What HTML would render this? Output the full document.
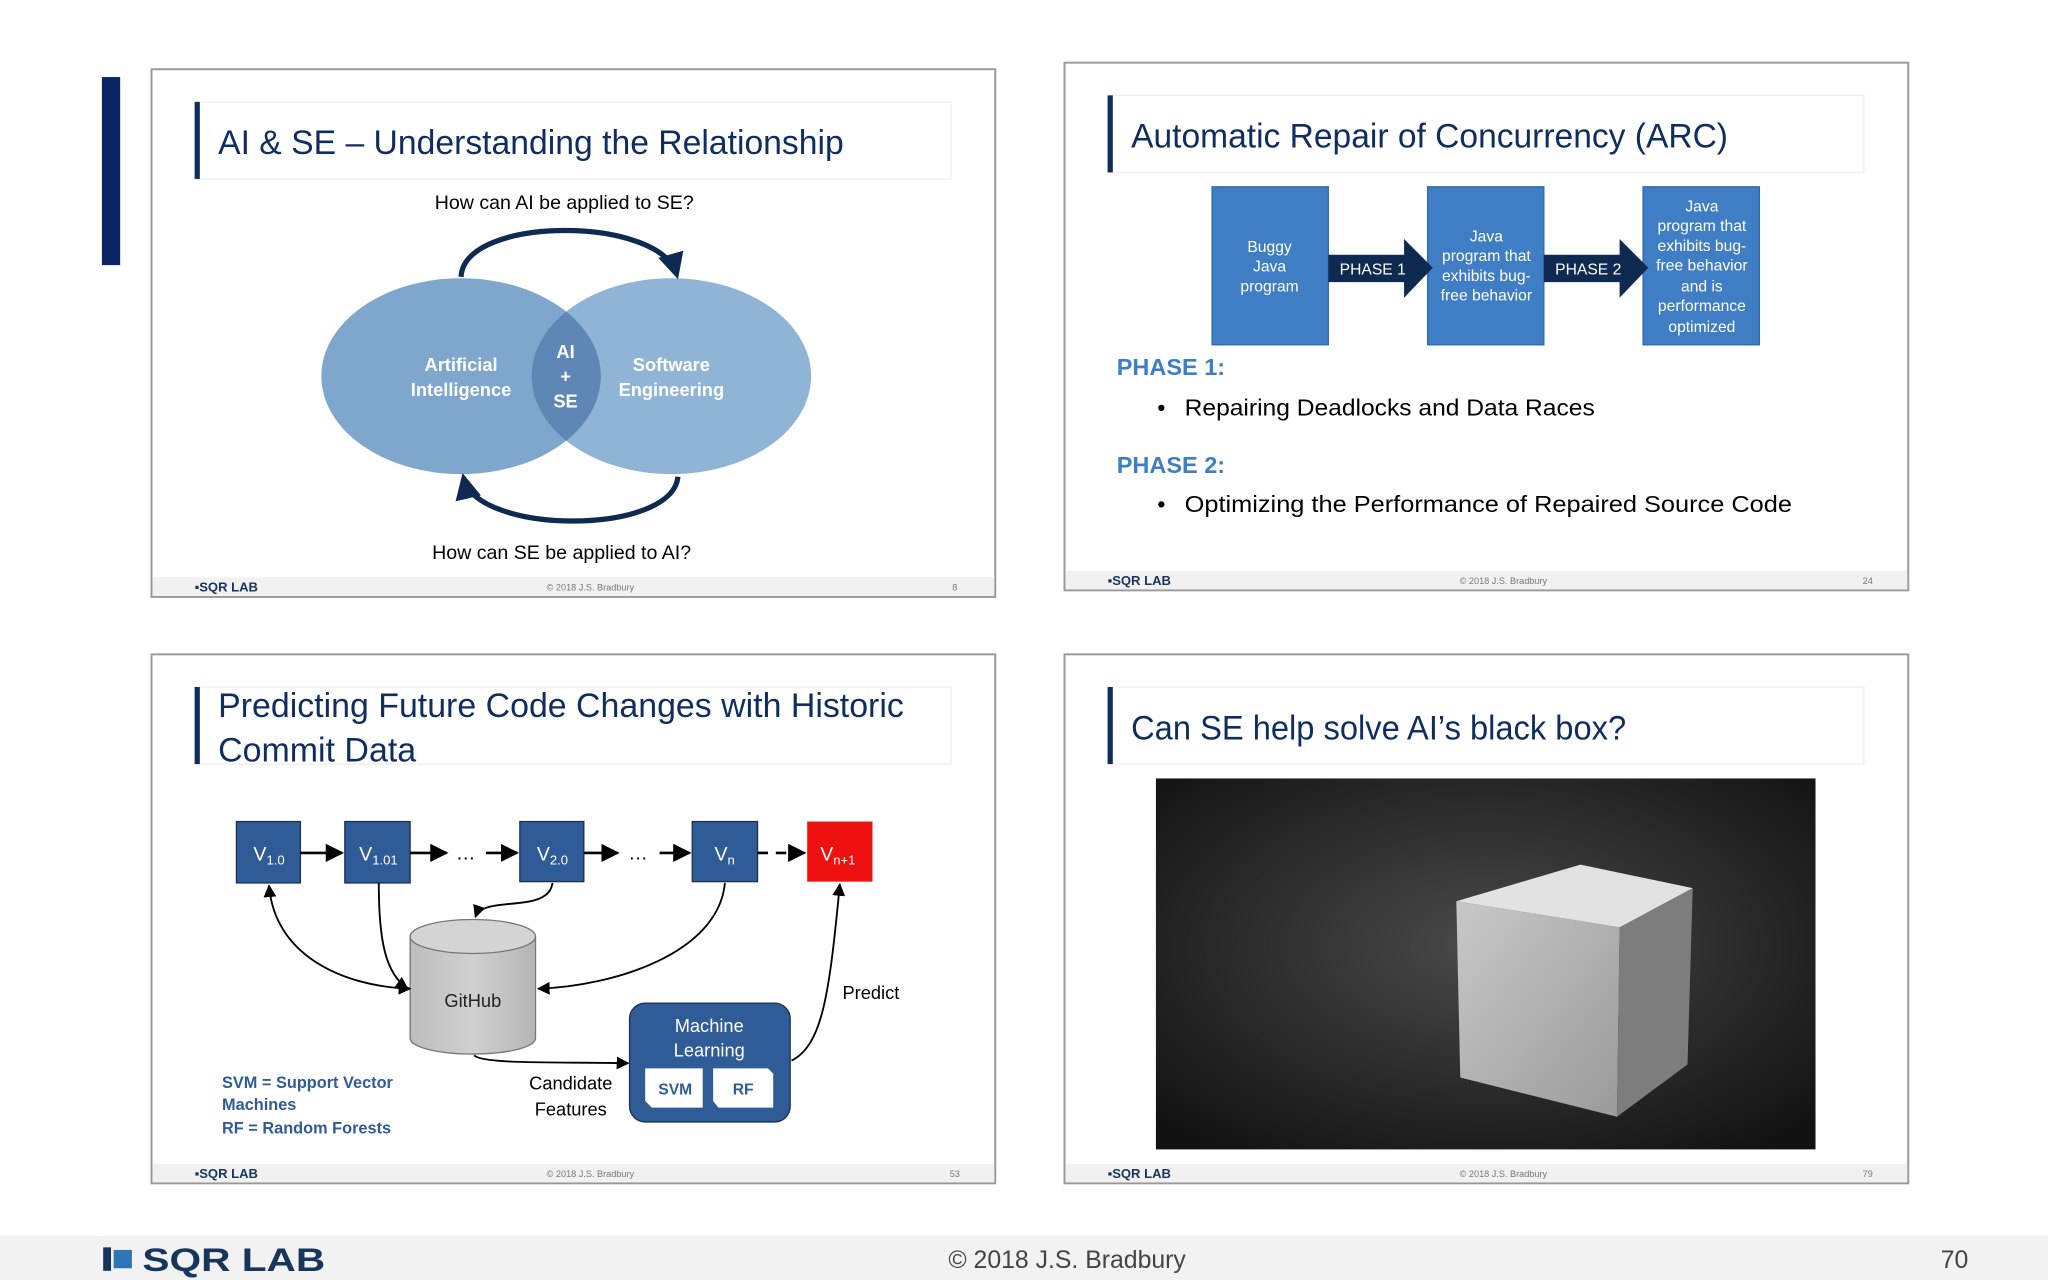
<!DOCTYPE html>
<html><head><meta charset="utf-8"><style>
html,body{margin:0;padding:0;background:#fff;width:2048px;height:1280px;overflow:hidden}
svg{display:block}
text{font-family:"Liberation Sans",sans-serif}
</style></head><body>
<svg width="2048" height="1280" viewBox="0 0 1568 980" xmlns="http://www.w3.org/2000/svg">
<defs>
<marker id="ah" viewBox="0 0 10 10" refX="9" refY="5" markerWidth="7" markerHeight="7" orient="auto-start-reverse"><path d="M0,0L10,5L0,10z" fill="#000"/></marker>
<marker id="ahb" viewBox="0 0 10 10" refX="8" refY="5" markerWidth="5" markerHeight="5" orient="auto-start-reverse"><path d="M0,0L10,5L0,10z" fill="#0f2a50"/></marker>
<radialGradient id="bg" cx="0.5" cy="0.45" r="0.7"><stop offset="0" stop-color="#4a4a4a"/><stop offset="1" stop-color="#111"/></radialGradient>
<linearGradient id="cyl" x1="0" x2="1"><stop offset="0" stop-color="#bdbdbd"/><stop offset="0.5" stop-color="#d0d0d0"/><stop offset="1" stop-color="#b5b5b5"/></linearGradient>
<linearGradient id="cf" x1="0" y1="0" x2="1" y2="1"><stop offset="0" stop-color="#c8c8c8"/><stop offset="1" stop-color="#9a9a9a"/></linearGradient>
</defs>
<rect width="1568" height="980" fill="#fff"/>
<rect x="78" y="59" width="14" height="144" fill="#0b2463"/>
<rect x="0" y="946" width="1568" height="34" fill="#f2f2f2"/>
<g font-weight="bold" fill="#17365d"><rect x="79" y="955" width="6" height="18" fill="#17365d"/><rect x="87" y="957" width="14" height="14" fill="#2e75b6"/>
<text x="109" y="973" font-size="25" textLength="140" lengthAdjust="spacingAndGlyphs">SQR LAB</text></g>
<text x="817" y="971" font-size="19" fill="#444" text-anchor="middle">© 2018 J.S. Bradbury</text>
<text x="1507" y="971" font-size="19" fill="#444" text-anchor="end">70</text>

<g fill="#fff" stroke="#999" stroke-width="1.5">
<rect x="116" y="53" width="646" height="404"/>
<rect x="815" y="48" width="646" height="404"/>
<rect x="116" y="501" width="646" height="405"/>
<rect x="815" y="501" width="646" height="405"/>
</g>
<g fill="#f1f1f1">
<rect x="117" y="442" width="644" height="14"/>
<rect x="816" y="437" width="644" height="14"/>
<rect x="117" y="891" width="644" height="14"/>
<rect x="816" y="891" width="644" height="14"/>
</g>
<g font-size="10" font-weight="bold" fill="#17365d">
<text x="149" y="453">▪SQR LAB</text><text x="848" y="448">▪SQR LAB</text>
<text x="149" y="902">▪SQR LAB</text><text x="848" y="902">▪SQR LAB</text></g>
<g font-size="7" fill="#777" text-anchor="middle">
<text x="452" y="452">© 2018 J.S. Bradbury</text><text x="1151" y="447">© 2018 J.S. Bradbury</text>
<text x="452" y="901">© 2018 J.S. Bradbury</text><text x="1151" y="901">© 2018 J.S. Bradbury</text>
<text x="731" y="452">8</text><text x="1430" y="447">24</text><text x="731" y="901">53</text><text x="1430" y="901">79</text></g>

<g fill="none" stroke="#eee"><rect x="150" y="78" width="578" height="59"/><rect x="849" y="73" width="578" height="59"/><rect x="150" y="526" width="578" height="59"/><rect x="849" y="526" width="578" height="59"/></g>
<g fill="#0f2d5e"><rect x="149" y="78" width="4" height="59"/><rect x="848" y="73" width="4" height="59"/><rect x="149" y="526" width="4" height="59"/><rect x="848" y="526" width="4" height="59"/></g>
<g font-size="26" fill="#0f2d5e">
<text x="167" y="118" textLength="479" lengthAdjust="spacingAndGlyphs">AI &amp; SE – Understanding the Relationship</text>
<text x="866" y="113" textLength="457" lengthAdjust="spacingAndGlyphs">Automatic Repair of Concurrency (ARC)</text>
<text x="167" y="549" textLength="525" lengthAdjust="spacingAndGlyphs">Predicting Future Code Changes with Historic</text>
<text x="167" y="583">Commit Data</text>
<text x="866" y="566" textLength="379" lengthAdjust="spacingAndGlyphs">Can SE help solve AI’s black box?</text></g>

<text x="432" y="160" font-size="15" text-anchor="middle">How can AI be applied to SE?</text>
<text x="430" y="428" font-size="15" text-anchor="middle">How can SE be applied to AI?</text>
<ellipse cx="353" cy="288" rx="107" ry="75" fill="#7fa6cc"/>
<ellipse cx="514" cy="288" rx="107" ry="75" fill="#8ab0d3" opacity="0.95"/>
<clipPath id="cl"><ellipse cx="353" cy="288" rx="107" ry="75"/></clipPath>
<ellipse cx="514" cy="288" rx="107" ry="75" fill="#5f87b5" clip-path="url(#cl)"/>
<g fill="#fff" font-size="14" font-weight="bold" text-anchor="middle">
<text x="353" y="284">Artificial</text><text x="353" y="303">Intelligence</text>
<text x="514" y="284">Software</text><text x="514" y="303">Engineering</text>
<text x="433" y="274">AI</text><text x="433" y="293">+</text><text x="433" y="312">SE</text></g>
<path d="M353,212 C355,165 505,165 518,210" fill="none" stroke="#0f2a50" stroke-width="4" marker-end="url(#ahb)"/>
<path d="M519,365 C515,410 365,410 355,366" fill="none" stroke="#0f2a50" stroke-width="4" marker-end="url(#ahb)"/>

<g fill="#3f7dc4" stroke="#2f6aad"><rect x="928" y="143" width="89" height="121"/><rect x="1093" y="143" width="89" height="121"/><rect x="1258" y="143" width="89" height="121"/></g>
<path d="M1017,195 H1075 V183 L1097,205 L1075,228 V216 H1017z" fill="#0f2a50"/>
<path d="M1182,195 H1240 V183 L1262,205 L1240,228 V216 H1182z" fill="#0f2a50"/>
<g fill="#fff" font-size="12" text-anchor="middle">
<text x="1051" y="210">PHASE 1</text><text x="1216" y="210">PHASE 2</text>
<text x="972" y="193">Buggy</text><text x="972" y="208">Java</text><text x="972" y="223">program</text>
<text x="1138" y="185">Java</text><text x="1138" y="200">program that</text><text x="1138" y="215">exhibits bug-</text><text x="1138" y="230">free behavior</text>
<text x="1303" y="162">Java</text><text x="1303" y="177">program that</text><text x="1303" y="192">exhibits bug-</text><text x="1303" y="207">free behavior</text><text x="1303" y="223">and is</text><text x="1303" y="238">performance</text><text x="1303" y="254">optimized</text></g>
<g font-size="18"><text x="855" y="287" fill="#3f7dc4" font-weight="bold">PHASE 1:</text>
<text x="855" y="362" fill="#3f7dc4" font-weight="bold">PHASE 2:</text>
<text x="886" y="318">•</text><text x="907" y="318" textLength="314" lengthAdjust="spacingAndGlyphs">Repairing Deadlocks and Data Races</text>
<text x="886" y="392">•</text><text x="907" y="392" textLength="465" lengthAdjust="spacingAndGlyphs">Optimizing the Performance of Repaired Source Code</text></g>

<g fill="#2f5b96" stroke="#1d3050" stroke-width="1"><rect x="181" y="629" width="49" height="47"/><rect x="264" y="629" width="50" height="47"/><rect x="398" y="629" width="49" height="46"/><rect x="530" y="629" width="50" height="46"/><rect x="482" y="768" width="123" height="91" rx="12"/></g>
<rect x="618" y="629" width="50" height="46" fill="#ef1010"/>
<g fill="#fff" font-size="15"><text x="194" y="659">V<tspan font-size="10" dy="3">1.0</tspan></text><text x="275" y="659">V<tspan font-size="10" dy="3">1.01</tspan></text><text x="411" y="659">V<tspan font-size="10" dy="3">2.0</tspan></text><text x="547" y="659">V<tspan font-size="10" dy="3">n</tspan></text><text x="628" y="659">V<tspan font-size="10" dy="3">n+1</tspan></text>
<text x="543" y="790" text-anchor="middle" font-size="14">Machine</text><text x="543" y="809" text-anchor="middle" font-size="14">Learning</text></g>
<path d="M494,818 H538 V848 H499 L494,843z" fill="#fff"/><path d="M546,818 H588 L592,822 V848 H550 L546,843z" fill="#fff"/>
<g fill="#2f5b96" font-size="12" font-weight="bold" text-anchor="middle"><text x="517" y="838">SVM</text><text x="569" y="838">RF</text></g>
<g stroke="#000" stroke-width="2" fill="none" marker-end="url(#ah)">
<path d="M230,653H262"/><path d="M314,653H342"/><path d="M372,653H396"/><path d="M447,653H473"/><path d="M505,653H528"/><path d="M580,653H616" stroke-dasharray="8,6"/></g>
<g font-size="15"><text x="349" y="658">…</text><text x="481" y="658">…</text></g>
<path d="M314,717 V795 A48,12 0 0 0 410,795 V717z" fill="url(#cyl)" stroke="#777"/>
<ellipse cx="362" cy="717" rx="48" ry="13" fill="#d4d4d4" stroke="#777"/>
<text x="362" y="771" font-size="14" text-anchor="middle" fill="#222">GitHub</text>
<g stroke="#000" stroke-width="1.4" fill="none" marker-end="url(#ah)">
<path d="M206,678 C210,730 260,755 314,757" marker-start="url(#ah)"/>
<path d="M290,676 C290,720 295,745 312,757"/>
<path d="M423,676 C420,700 370,685 364,702"/>
<path d="M555,676 C550,730 470,755 412,757"/>
<path d="M363,808 C370,815 430,813 481,814"/>
<path d="M606,812 C630,800 635,760 643,677"/></g>
<text x="645" y="765" font-size="14">Predict</text>
<g font-size="14" text-anchor="middle"><text x="437" y="834">Candidate</text><text x="437" y="854">Features</text></g>
<g font-size="12.5" fill="#2f5b96" font-weight="bold"><text x="170" y="833">SVM = Support Vector</text><text x="170" y="850">Machines</text><text x="170" y="868">RF = Random Forests</text></g>

<rect x="885" y="596" width="505" height="284" fill="url(#bg)"/>
<polygon points="1115,690 1210,662 1296,680 1240,710" fill="#e2e2e2"/>
<polygon points="1115,690 1240,710 1238,855 1118,825" fill="url(#cf)"/>
<polygon points="1240,710 1296,680 1292,815 1238,855" fill="#7d7d7d"/>
</svg>
</body></html>
